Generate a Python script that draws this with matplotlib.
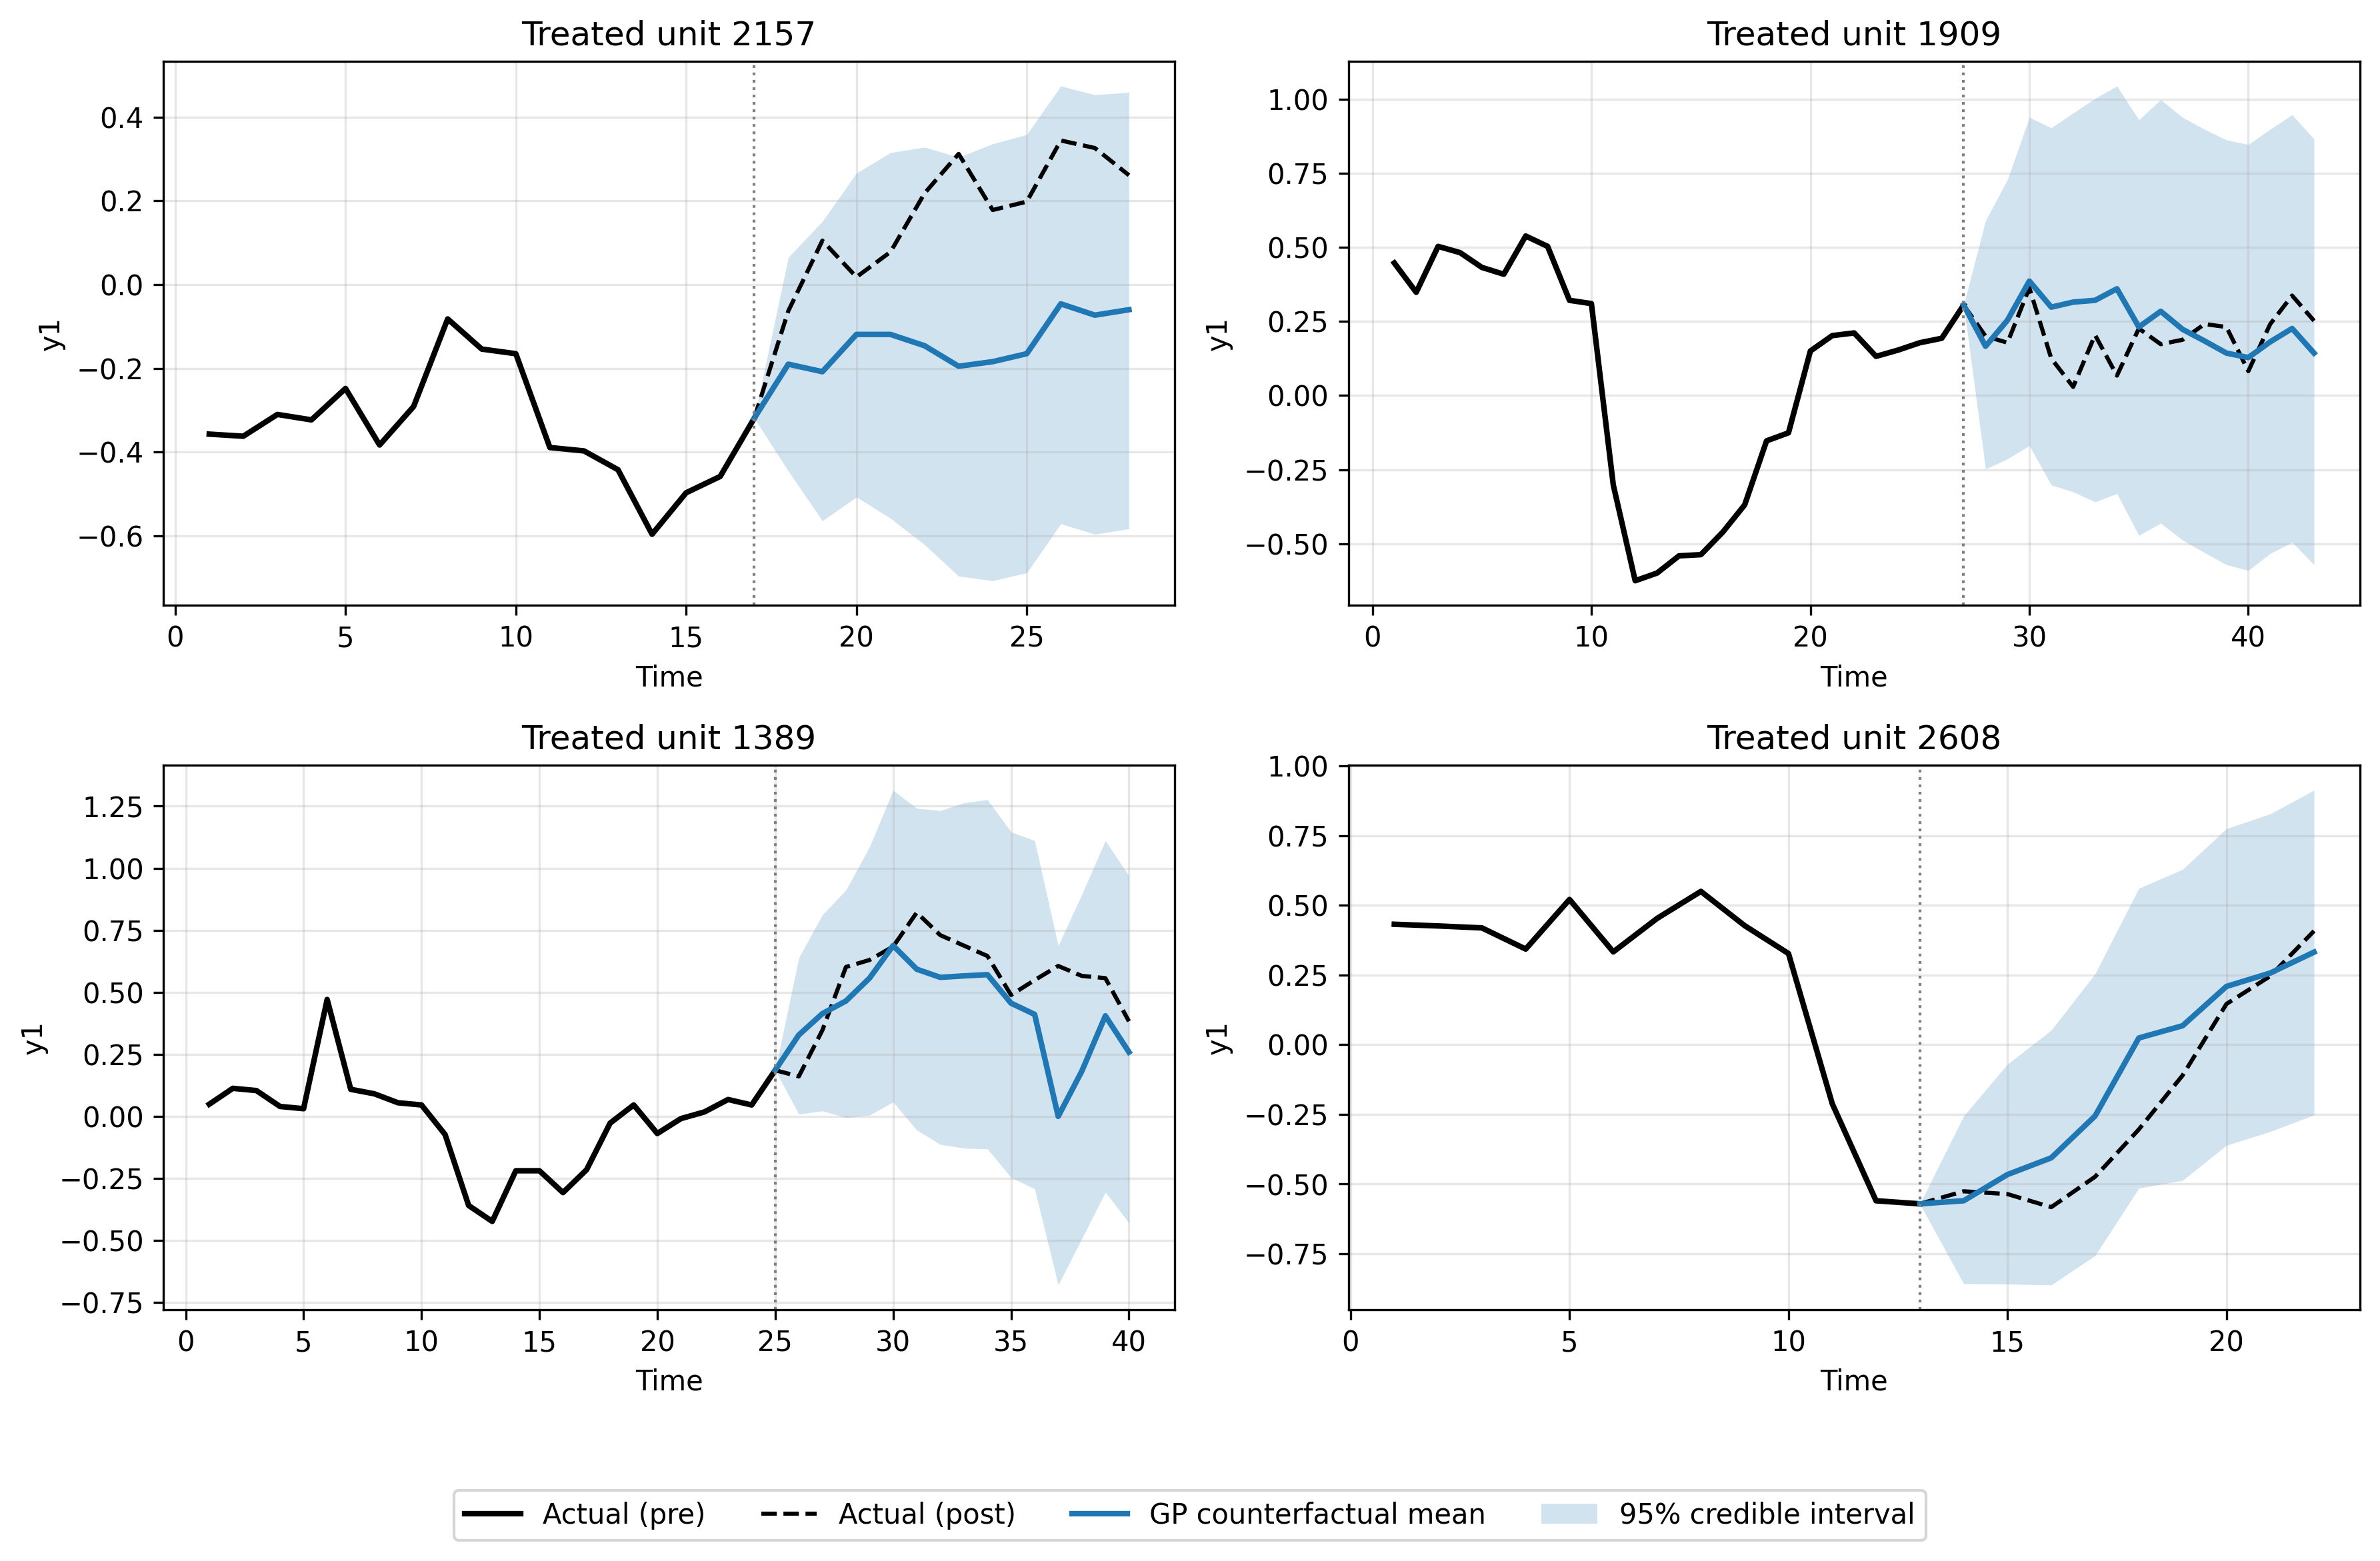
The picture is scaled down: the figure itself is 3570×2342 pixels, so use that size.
import numpy as np
import matplotlib
matplotlib.use("Agg")
import matplotlib.pyplot as plt
from matplotlib.lines import Line2D
from matplotlib.patches import Patch

# values
units = [2157, 1909, 1389, 2608]
treat_time = [17, 27, 25, 13]

pre_2157 = [-0.357, -0.362, -0.31, -0.323, -0.248, -0.383, -0.291, -0.082, -0.154, -0.165,
            -0.389, -0.397, -0.442, -0.596, -0.497, -0.458, -0.319]
post_2157 = [-0.319, -0.063, 0.105, 0.018, 0.078, 0.218, 0.312, 0.178, 0.198, 0.344, 0.326, 0.261]
mean_2157 = [-0.319, -0.19, -0.208, -0.119, -0.119, -0.146, -0.195, -0.184, -0.165, -0.046, -0.073, -0.06]
upper_2157 = [-0.319, 0.065, 0.151, 0.266, 0.315, 0.328, 0.304, 0.336, 0.358, 0.474, 0.453, 0.459]
lower_2157 = [-0.319, -0.445, -0.564, -0.507, -0.558, -0.621, -0.696, -0.707, -0.688, -0.571, -0.596, -0.583]

pre_1909 = [0.447, 0.348, 0.503, 0.482, 0.432, 0.409, 0.538, 0.503, 0.321, 0.31,
            -0.302, -0.625, -0.599, -0.541, -0.537, -0.461, -0.369, -0.153, -0.126, 0.15,
            0.202, 0.211, 0.132, 0.153, 0.178, 0.193, 0.305]
post_1909 = [0.305, 0.2, 0.178, 0.363, 0.125, 0.029, 0.204, 0.067, 0.226, 0.173,
             0.188, 0.241, 0.231, 0.082, 0.241, 0.337, 0.252]
mean_1909 = [0.305, 0.166, 0.254, 0.386, 0.298, 0.315, 0.321, 0.36, 0.231, 0.284,
             0.223, 0.184, 0.143, 0.128, 0.181, 0.226, 0.143]
upper_1909 = [0.305, 0.59, 0.728, 0.938, 0.903, 0.953, 1.002, 1.044, 0.93, 0.998,
              0.938, 0.898, 0.862, 0.847, 0.898, 0.947, 0.865]
lower_1909 = [0.305, -0.248, -0.214, -0.169, -0.302, -0.325, -0.359, -0.331, -0.472, -0.431,
              -0.488, -0.53, -0.571, -0.59, -0.533, -0.495, -0.571]

pre_1389 = [0.049, 0.113, 0.104, 0.04, 0.031, 0.471, 0.109, 0.091, 0.055, 0.046,
            -0.073, -0.359, -0.423, -0.219, -0.219, -0.307, -0.215, -0.027, 0.046, -0.069,
            -0.009, 0.018, 0.068, 0.046, 0.186]
post_1389 = [0.186, 0.161, 0.347, 0.602, 0.63, 0.684, 0.821, 0.73, 0.688, 0.646,
             0.489, 0.549, 0.606, 0.566, 0.557, 0.383]
mean_1389 = [0.186, 0.328, 0.414, 0.465, 0.557, 0.688, 0.593, 0.56, 0.566, 0.571,
             0.456, 0.411, 0.0, 0.182, 0.405, 0.259]
upper_1389 = [0.186, 0.639, 0.812, 0.912, 1.086, 1.314, 1.241, 1.232, 1.263, 1.276,
              1.146, 1.111, 0.688, 0.894, 1.111, 0.969]
lower_1389 = [0.186, 0.009, 0.022, -0.005, 0.005, 0.058, -0.055, -0.113, -0.128, -0.131,
              -0.246, -0.292, -0.679, -0.493, -0.305, -0.429]

pre_2608 = [0.432, 0.426, 0.419, 0.343, 0.521, 0.333, 0.453, 0.55, 0.427, 0.327,
            -0.212, -0.56, -0.571]
post_2608 = [-0.571, -0.526, -0.536, -0.583, -0.474, -0.304, -0.11, 0.146, 0.246, 0.408]
mean_2608 = [-0.571, -0.56, -0.466, -0.406, -0.256, 0.024, 0.068, 0.209, 0.257, 0.332]
upper_2608 = [-0.571, -0.256, -0.07, 0.052, 0.254, 0.561, 0.629, 0.775, 0.828, 0.913]
lower_2608 = [-0.571, -0.858, -0.859, -0.862, -0.757, -0.515, -0.487, -0.361, -0.312, -0.252]

pre_all = [pre_2157, pre_1909, pre_1389, pre_2608]
post_all = [post_2157, post_1909, post_1389, post_2608]
mean_all = [mean_2157, mean_1909, mean_1389, mean_2608]
upper_all = [upper_2157, upper_1909, upper_1389, upper_2608]
lower_all = [lower_2157, lower_1909, lower_1389, lower_2608]

fig, axes = plt.subplots(2, 2, figsize=(11.9, 7.807), dpi=300)
fig.subplots_adjust(left=0.0686, right=0.9916, top=0.9607, bottom=0.161,
                    wspace=0.1714, hspace=0.294)

for i, ax in enumerate(axes.flat):
    t0 = treat_time[i]
    t_pre = np.arange(1, len(pre_all[i]) + 1)
    t_post = np.arange(t0, t0 + len(post_all[i]))

    ax.fill_between(t_post, lower_all[i], upper_all[i], color='C0', alpha=0.2, linewidth=0)
    ax.plot(t_pre, pre_all[i], color='black', lw=2)
    ax.plot(t_post, post_all[i], color='black', ls='--', lw=1.5)
    ax.plot(t_post, mean_all[i], color='C0', lw=2)
    ax.axvline(t0, color='gray', ls=':', lw=1)

    ax.set_title(f"Treated unit {units[i]}")
    ax.set_xlabel("Time")
    ax.set_ylabel("y1")
    ax.grid(alpha=0.3)

handles = [
    Line2D([], [], color='black', lw=2, label='Actual (pre)'),
    Line2D([], [], color='black', ls='--', lw=1.5, label='Actual (post)'),
    Line2D([], [], color='C0', lw=2, label='GP counterfactual mean'),
    Patch(facecolor='C0', alpha=0.2, label='95% credible interval'),
]
fig.legend(handles=handles, loc='center', bbox_to_anchor=(0.5, 0.0292), ncol=4)

fig.savefig("out.png", dpi=300)
